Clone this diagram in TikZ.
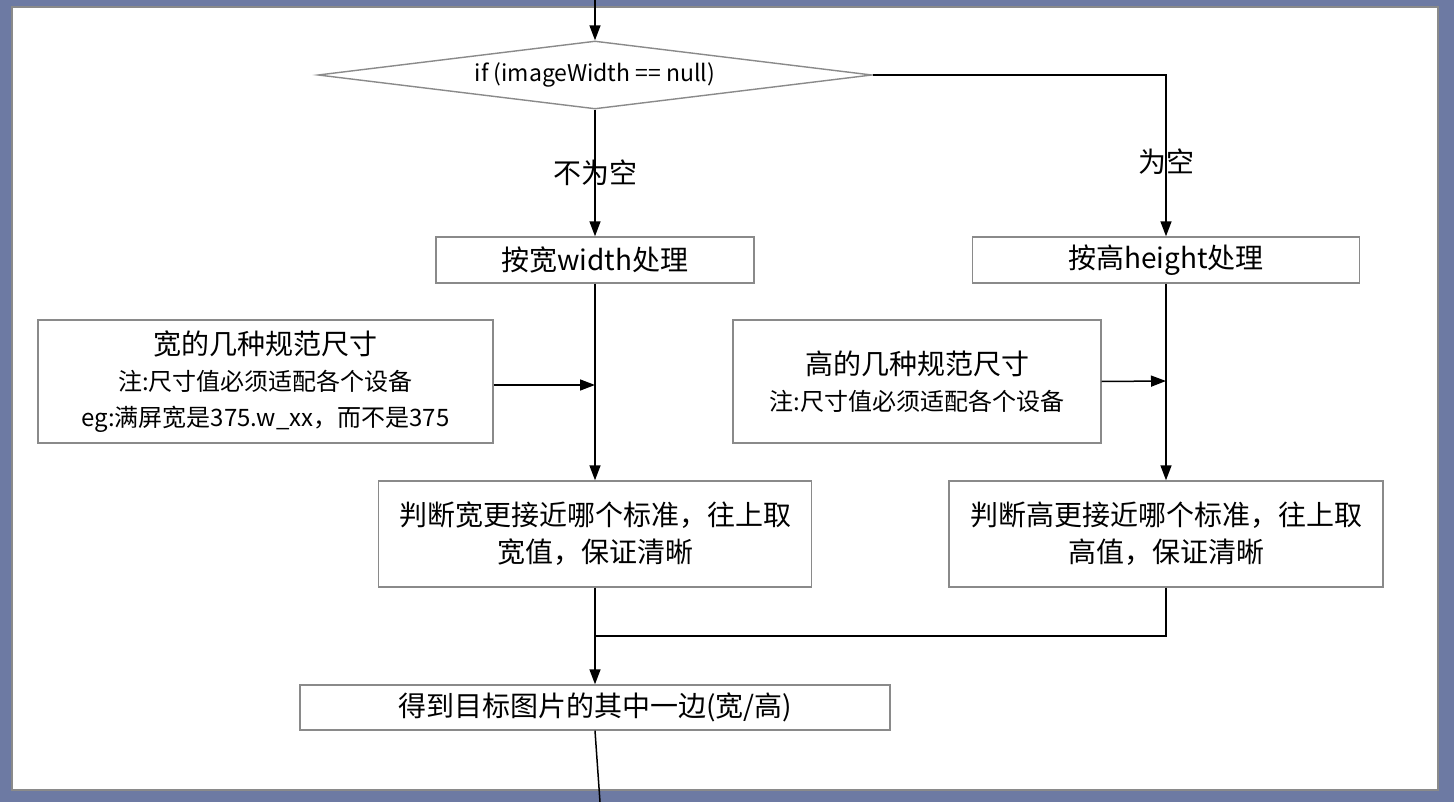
\documentclass[tikz,border=0pt]{standalone}
\usepackage{fontspec}
\setmainfont{Noto Sans CJK SC}
\usetikzlibrary{shapes.geometric,arrows.meta}
\definecolor{framebg}{HTML}{6D7AA3}
\definecolor{boxline}{HTML}{8A8A8A}
\tikzset{
  box/.style={draw=boxline,line width=1.4pt,fill=white,rectangle,inner sep=0pt,align=center,font=\fontsize{28}{37}\selectfont},
  notebox/.style={box,font=\fontsize{24}{36}\selectfont},
  conn/.style={draw=black,line width=1.5pt,-{Triangle[length=15pt,width=11pt]}},
  plain/.style={draw=black,line width=1.5pt},
  lbl/.style={font=\fontsize{28}{30}\selectfont,inner sep=0pt}
}
\begin{document}
\begin{tikzpicture}[x=1pt,y=-1pt]
\useasboundingbox (0,0) rectangle (1454,802);
\fill[framebg] (0,0) rectangle (1454,802);
\fill[boxline] (11,6) rectangle (1439,791);
\fill[white] (13,8) rectangle (1437,789);

\node[diamond,draw=boxline,line width=1.4pt,fill=white,aspect=8,inner sep=0pt,
      minimum width=554pt,minimum height=68pt,font=\fontsize{23}{26}\selectfont] (d) at (595,75) {if (imageWidth == null)};

\node[box,minimum width=318pt,minimum height=46pt] (b1) at (595,260) {按宽width处理};
\node[box,minimum width=387pt,minimum height=46pt] (b2) at (1166,260) {按高height处理};

\node[notebox,minimum width=455pt,minimum height=123pt] (n1) at (265.5,381.5)
  {{\fontsize{28}{36}\selectfont 宽的几种规范尺寸}\\注:尺寸值必须适配各个设备\\eg:满屏宽是375.w\_xx，而不是375};
\node[notebox,minimum width=368pt,minimum height=123pt] (n2) at (917,381.5)
  {{\fontsize{28}{37}\selectfont 高的几种规范尺寸}\\注:尺寸值必须适配各个设备};

\node[box,minimum width=433pt,minimum height=106pt] (b4) at (595,534) {判断宽更接近哪个标准，往上取\\宽值，保证清晰};
\node[box,minimum width=434pt,minimum height=106pt] (b6) at (1166,534) {判断高更接近哪个标准，往上取\\高值，保证清晰};

\node[box,minimum width=590pt,minimum height=45pt] (b7) at (595,707.5) {得到目标图片的其中一边(宽/高)};

\coordinate (top) at (595,0);
\coordinate (m1) at (595,385);
\coordinate (m2) at (1166,381);
\coordinate (j) at (595,636);
\coordinate (bot) at (600,802);

\draw[conn] (top) -- (d.north);
\draw[conn] (d.south) -- node[lbl,pos=0.5] {不为空} (b1.north);
\draw[conn] (d.east) -| node[lbl,pos=0.77] {为空} (b2.north);
\draw[conn] (b1.south) -- (b4.north);
\draw[conn] (b2.south) -- (b6.north);
\draw[conn] ([yshift=-3.5pt]n1.east) -- (m1);
\draw[conn] (n2.east) -- (m2);
\draw[conn] (b4.south) -- (b7.north);
\draw[plain] (b6.south) |- (j);
\draw[plain] (b7.south) -- (bot);
\end{tikzpicture}
\end{document}
